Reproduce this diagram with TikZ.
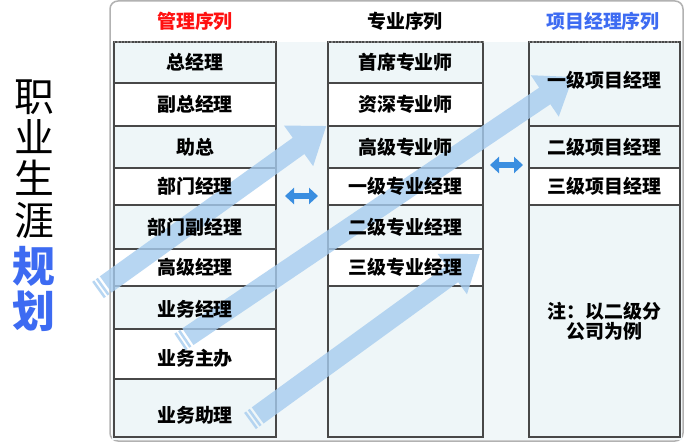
\documentclass[tikz,border=0pt]{standalone}
\usepackage{fontspec}
\setmainfont{Noto Sans CJK SC}
\usetikzlibrary{arrows.meta}
\definecolor{rowlight}{HTML}{EEF6F8}
\definecolor{panelbg}{HTML}{F1F7F9}
\definecolor{arrowblue}{HTML}{A6CCEF}
\definecolor{dblue}{HTML}{3A8EE0}
\definecolor{hblue}{HTML}{3D6BF2}
\definecolor{hred}{HTML}{FF1010}
\definecolor{gridline}{HTML}{484848}
\begin{document}
\begin{tikzpicture}[x=1bp,y=-1bp,
  cell/.style={draw=gridline, line width=1.3bp, inner sep=0, outer sep=0, anchor=north west},
  lite/.style={cell, fill=rowlight},
  whit/.style={cell, fill=white},
  lbl/.style={font=\fontsize{19}{20}\selectfont\bfseries, text=black, inner sep=0, align=center},
  hdr/.style={font=\fontsize{19}{20}\selectfont\bfseries, inner sep=0},
  bigarrow/.style={fill=arrowblue, fill opacity=0.8, draw=none},
  dbl/.style={draw=dblue, line width=6bp, {Triangle[length=9bp,width=16bp]}-{Triangle[length=9bp,width=16bp]}}
]
\useasboundingbox (0,0) rectangle (693,444);
% panel
\fill[white] (0,0) rectangle (693,444);
\draw[gray!60, line width=1.5bp, fill=white, rounded corners=8bp] (110,1) rectangle (683,441);
\fill[panelbg] (111.5,42) rectangle (681.5,439.5);
% column 1
\node[lite, minimum width=162bp, minimum height=41bp] (m1) at (114,42) {};
\node[whit, minimum width=162bp, minimum height=43bp] (m2) at (114,83) {};
\node[lite, minimum width=162bp, minimum height=42bp] (m3) at (114,126) {};
\node[whit, minimum width=162bp, minimum height=37bp] (m4) at (114,168) {};
\node[lite, minimum width=162bp, minimum height=44bp] (m5) at (114,205) {};
\node[whit, minimum width=162bp, minimum height=37bp] (m6) at (114,249) {};
\node[lite, minimum width=162bp, minimum height=43bp] (m7) at (114,286) {};
\node[whit, minimum width=162bp, minimum height=50bp] (m8) at (114,329) {};
\node[lite, minimum width=162bp, minimum height=58bp] (m9) at (114,379) {};
% column 2
\node[lite, minimum width=155bp, minimum height=41bp] (p1) at (328,42) {};
\node[whit, minimum width=155bp, minimum height=43bp] (p2) at (328,83) {};
\node[lite, minimum width=155bp, minimum height=42bp] (p3) at (328,126) {};
\node[whit, minimum width=155bp, minimum height=37bp] (p4) at (328,168) {};
\node[lite, minimum width=155bp, minimum height=44bp] (p5) at (328,205) {};
\node[whit, minimum width=155bp, minimum height=37bp] (p6) at (328,249) {};
\node[lite, minimum width=155bp, minimum height=151bp] (p7) at (328,286) {};
% column 3
\node[lite, minimum width=151bp, minimum height=84bp] (q1) at (529,42) {};
\node[lite, minimum width=151bp, minimum height=42bp] (q2) at (529,126) {};
\node[whit, minimum width=151bp, minimum height=37bp] (q3) at (529,168) {};
\node[lite, minimum width=151bp, minimum height=232bp] (q4) at (529,205) {};
% dotted top borders
\draw[gray, line width=1.3bp, dotted] (m1.north west) -- (m1.north east);
\draw[gray, line width=1.3bp, dotted] (p1.north west) -- (p1.north east);
\draw[gray, line width=1.3bp, dotted] (q1.north west) -- (q1.north east);
% big striped arrows
\begin{scope}[shift={(98,290)}, rotate=35.7]
  \fill[bigarrow] (0,-10) rectangle (2.5,10) (4.5,-10) rectangle (7,10);
  \fill[bigarrow] (9.5,-10) -- (247,-10) -- (247,-25) -- (281,0) -- (247,25) -- (247,10) -- (9.5,10) -- cycle;
\end{scope}
\begin{scope}[shift={(180,342)}, rotate=34.0]
  \fill[bigarrow] (0,-10) rectangle (2.5,10) (4.5,-10) rectangle (7,10);
  \fill[bigarrow] (9.5,-10) -- (440,-10) -- (440,-25) -- (474,0) -- (440,25) -- (440,10) -- (9.5,10) -- cycle;
\end{scope}
\begin{scope}[shift={(250,421)}, rotate=36.0]
  \fill[bigarrow] (0,-10) rectangle (2.5,10) (4.5,-10) rectangle (7,10);
  \fill[bigarrow] (9.5,-10) -- (250,-10) -- (250,-25) -- (284,0) -- (250,25) -- (250,10) -- (9.5,10) -- cycle;
\end{scope}
% double arrows
\coordinate (d1a) at (285,196);
\coordinate (d1b) at (318,196);
\coordinate (d2a) at (490,165);
\coordinate (d2b) at (523,165);
\draw[dbl] (d1a) -- (d1b);
\draw[dbl] (d2a) -- (d2b);
% headers
\node[hdr, text=hred] (h1) at (195,21) {管理序列};
\node[hdr, text=black] (h2) at (405,21) {专业序列};
\node[hdr, text=hblue] (h3) at (603,21) {项目经理序列};
% labels column 1
\node[lbl] (t1) at (m1.center) {总经理};
\node[lbl] (t2) at (m2.center) {副总经理};
\node[lbl] (t3) at (m3.center) {助总};
\node[lbl] (t4) at (m4.center) {部门经理};
\node[lbl] (t5) at (m5.center) {部门副经理};
\node[lbl] (t6) at (m6.center) {高级经理};
\node[lbl] (t7) at ([yshift=-2bp]m7.center) {业务经理};
\node[lbl] (t8) at ([yshift=-4bp]m8.center) {业务主办};
\node[lbl] (t9) at ([yshift=-7bp]m9.center) {业务助理};
% labels column 2
\node[lbl] (u1) at (p1.center) {首席专业师};
\node[lbl] (u2) at (p2.center) {资深专业师};
\node[lbl] (u3) at (p3.center) {高级专业师};
\node[lbl] (u4) at (p4.center) {一级专业经理};
\node[lbl] (u5) at (p5.center) {二级专业经理};
\node[lbl] (u6) at (p6.center) {三级专业经理};
% labels column 3
\node[lbl] (v1) at ([yshift=4bp]q1.center) {一级项目经理};
\node[lbl] (v2) at (q2.center) {二级项目经理};
\node[lbl] (v3) at (q3.center) {三级项目经理};
\node[lbl] (v4) at (q4.center) {注：以二级分\\公司为例};
% side title
\node[inner sep=0, align=center, font=\fontsize{40}{41.5}\selectfont] (s1) at (34,159) {职\\业\\生\\涯};
\node[inner sep=0, align=center, text=hblue, font=\fontsize{43}{45}\selectfont\bfseries] (s2) at (34,289) {规\\划};
\end{tikzpicture}
\end{document}
